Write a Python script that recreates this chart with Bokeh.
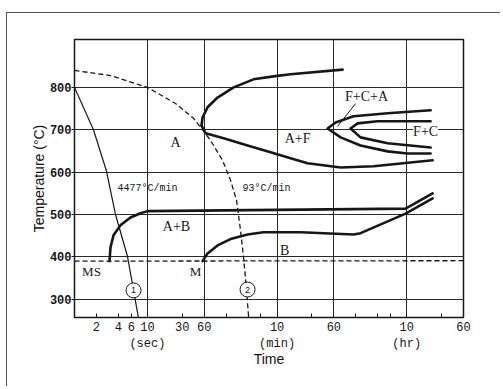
from bokeh.plotting import figure
from bokeh.models import FixedTicker, Label, ColumnDataSource
from bokeh.core.properties import value
from bokeh.embed import file_html
from bokeh.resources import INLINE

# ---- data (time in seconds, temperature in degC) ----
cool1_t = [1.0, 1.82, 2.75, 3.65, 5.33, 7.5]
cool1_T = [800, 700, 602, 500, 401, 258]
cool2_t = [1.0, 3.1, 10, 24.3, 42.9, 53.5, 73.4, 107, 138, 167, 189, 208, 229, 244]
cool2_T = [840, 828, 800, 762, 727, 706, 675, 628, 581, 533, 463, 399, 321, 258]
ms_t = [1.0, 216000]
ms_T = [390, 391]
bs_t = [3.02, 3.12, 3.43, 4.28, 5.86, 8.04, 10, 34700, 81460]
bs_T = [390, 423, 451, 475, 493, 503, 508, 514, 550]
bf_t = [57, 66.7, 91.6, 138, 236, 391, 670, 1259, 6714, 8375, 34700, 81460]
bf_T = [390, 408, 427, 442, 453, 458, 458, 458, 453, 456, 502, 538]
fs_up_t = [55.2, 57, 66.7, 91.6, 152, 285, 537, 918, 4746]
fs_up_T = [710, 729, 753, 776, 800, 819, 826, 831, 842]
fs_lo_t = [55.2, 62.7, 111, 236, 489, 918, 1570, 4457, 12640, 81460]
fs_lo_T = [710, 692, 680, 663, 647, 633, 621, 611, 614, 628]
fca_out_t = [76420, 19660, 6714, 3805, 2955, 4457, 8375, 19660, 36960, 76420]
fca_out_T = [746, 739, 732, 717, 703, 682, 663, 649, 644, 644]
fca_in_t = [76420, 14330, 7621, 6106, 8375, 19660, 76420]
fca_in_T = [720, 720, 715, 703, 682, 668, 658]
leader_t = [7157, 4055]
leader_T = [762, 708]

circle_t = [6.45, 236]
circle_T = [321, 323]
circle_txt = ["1", "2"]

phase_txt = ["A", "A+F", "F+C+A", "A+B", "B"]
phase_t = [24.3, 1146, 10120, 25, 760]
phase_T = [670, 680, 779, 472, 416]

ms_txt = ["MS", "M"]
ms_lab_t = [1.71, 45.7]
ms_lab_T = [366, 366]

rate_txt = ["4477\u00b0C/min", "93\u00b0C/min"]
rate_t = [10, 430]
rate_T = [562, 562]

x_major = [2, 4, 6, 10, 30, 60, 600, 3600, 36000, 216000]
x_major_labels = ["2", "4", "6", "10\n(sec)", "30", "60", "10\n(min)", "60", "10\n(hr)", "60"]
x_minor = [120, 240, 360, 1800, 7200, 14400, 21600, 108000]
x_grid = [10, 60, 600, 3600, 36000]
y_ticks = [300, 400, 500, 600, 700, 800]

INK = "#161616"

p = figure(width=494, height=374, x_axis_type="log",
           x_range=(1, 216000), y_range=(257, 913),
           output_backend="svg", toolbar_location=None,
           min_border_left=67, min_border_top=26,
           min_border_right=38, min_border_bottom=70)
p.styles = {"border-left": "1px solid #555", "border-top": "1px solid #555",
            "margin-left": "6px", "margin-top": "12px"}
p.background_fill_color = "white"
p.outline_line_color = INK
p.outline_line_width = 1.5

# grids
p.xgrid.ticker = FixedTicker(ticks=x_grid)
p.ygrid.ticker = FixedTicker(ticks=y_ticks)
for g in (p.xgrid, p.ygrid):
    g.grid_line_color = "#2a2a2a"
    g.grid_line_width = 1
    g.grid_line_alpha = 1

# x axis
xa = p.xaxis[0]
xa.ticker = FixedTicker(ticks=x_major, minor_ticks=x_minor)
xa.major_label_overrides = dict(zip(x_major, x_major_labels))
xa.major_tick_in = 4
xa.major_tick_out = 0
xa.minor_tick_in = 4
xa.minor_tick_out = 0
xa.major_tick_line_color = INK
xa.minor_tick_line_color = INK
xa.axis_line_color = None
xa.major_label_standoff = 3
xa.major_label_text_font = "Liberation Mono"
xa.major_label_text_font_size = "12px"
xa.major_label_text_color = INK
xa.axis_label = "Time"
xa.axis_label_text_font = "Liberation Sans"
xa.axis_label_text_font_style = "normal"
xa.axis_label_text_font_size = "14px"
xa.axis_label_text_color = "#111"
xa.axis_label_standoff = -3

# y axis
ya = p.yaxis[0]
ya.ticker = FixedTicker(ticks=y_ticks)
ya.major_tick_in = 0
ya.major_tick_out = 3
ya.minor_tick_out = 0
ya.minor_tick_in = 0
ya.major_tick_line_color = INK
ya.axis_line_color = None
ya.major_label_standoff = 0
ya.major_label_text_font = "Liberation Mono"
ya.major_label_text_font_style = "bold"
ya.major_label_text_font_size = "12px"
ya.major_label_text_color = INK
ya.axis_label = "Temperature (\u00b0C)"
ya.axis_label_text_font = "Liberation Sans"
ya.axis_label_text_font_style = "normal"
ya.axis_label_text_font_size = "14px"
ya.axis_label_text_color = "#111"
ya.axis_label_standoff = 0

# cooling curves
p.line(cool1_t, cool1_T, line_color=INK, line_width=1.2)
p.line(cool2_t, cool2_T, line_color=INK, line_width=1.3, line_dash="5 3")
p.line(ms_t, ms_T, line_color=INK, line_width=1.3, line_dash="5 3")

# transformation curves
for tt, TT in [(bs_t, bs_T), (bf_t, bf_T), (fs_up_t, fs_up_T), (fs_lo_t, fs_lo_T),
               (fca_out_t, fca_out_T), (fca_in_t, fca_in_T)]:
    p.line(tt, TT, line_color=INK, line_width=2.6, line_join="round", line_cap="round")
p.line(leader_t, leader_T, line_color=INK, line_width=1)

# curve number circles
csrc = ColumnDataSource(dict(t=circle_t, T=circle_T, s=circle_txt))
p.scatter("t", "T", source=csrc, size=15, fill_color="white", line_color=INK, line_width=1)
p.text("t", "T", text="s", source=csrc, text_font=value("Liberation Sans"),
       text_font_size="9px", text_align="center", text_baseline="middle", text_color=INK)

# phase labels
psrc = ColumnDataSource(dict(t=phase_t, T=phase_T, s=phase_txt))
p.text("t", "T", text="s", source=psrc, text_font=value("Liberation Serif"),
       text_font_size="14px", text_align="center", text_baseline="middle", text_color=INK)
msrc = ColumnDataSource(dict(t=ms_lab_t, T=ms_lab_T, s=ms_txt))
p.text("t", "T", text="s", source=msrc, text_font=value("Liberation Serif"),
       text_font_size="13px", text_align="center", text_baseline="middle", text_color=INK)
rsrc = ColumnDataSource(dict(t=rate_t, T=rate_T, s=rate_txt))
p.text("t", "T", text="s", source=rsrc, text_font=value("Liberation Mono"),
       text_font_size="10px", text_align="center", text_baseline="middle", text_color=INK)

p.add_layout(Label(x=65300, y=696, text="F+C", text_font="Liberation Serif",
                   text_font_size="14px", text_align="center", text_baseline="middle",
                   text_color=INK, background_fill_color="white"))

open("out.html", "w").write(file_html(p, INLINE))
